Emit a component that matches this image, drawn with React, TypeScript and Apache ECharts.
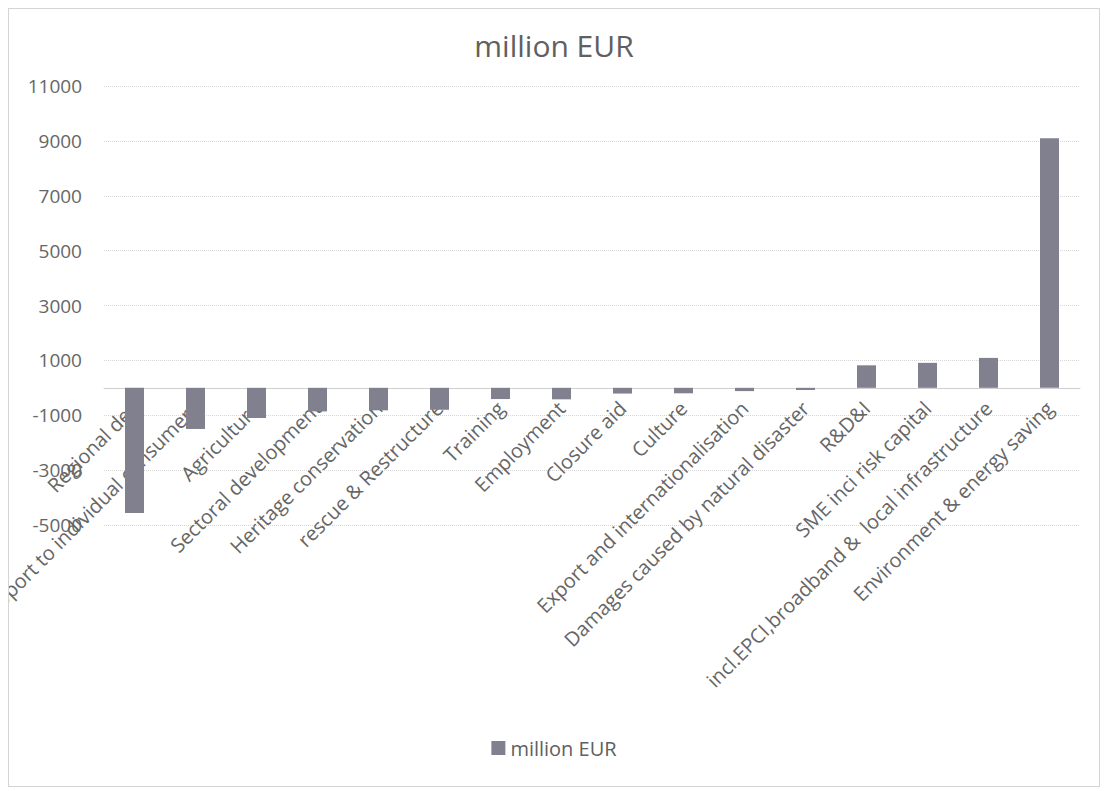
import React, { useEffect, useRef } from "react";
import * as echarts from "echarts";

const categories = [
  "Regional dev",
  "Support to individual consumers",
  "Agriculture",
  "Sectoral development",
  "Heritage conservation",
  "rescue & Restructure",
  "Training",
  "Employment",
  "Closure aid",
  "Culture",
  "Export and internationalisation",
  "Damages caused by natural disaster",
  "R&D&I",
  "SME inci risk capital",
  "incl.EPCI,broadband &  local infrastructure",
  "Environment & energy saving",
];

const values = [
  -4560, -1500, -1100, -860, -820, -800, -410, -420, -210, -200, -120, -80,
  820, 910, 1090, 9100,
];

const yTicks = [-5000, -3000, -1000, 1000, 3000, 5000, 7000, 9000, 11000];
const yMin = -5000;
const yMax = 11000;

const seriesName = "million EUR";
const titleText = "million EUR";

export default function App() {
  const ref = useRef<HTMLDivElement>(null);
  useEffect(() => {
    if (!ref.current) return;
    const chart = echarts.init(ref.current, undefined, { renderer: "svg" });
    const font = "'Open Sans', 'Liberation Sans', sans-serif";
    chart.setOption({
      animation: false,
      backgroundColor: "#ffffff",
      textStyle: { fontFamily: font },
      title: {
        text: titleText,
        left: "center",
        top: 16,
        textStyle: { fontFamily: font, fontSize: 30, fontWeight: "normal", color: "#606060" },
      },
      legend: {
        bottom: 23,
        left: "center",
        icon: "rect",
        itemWidth: 14,
        itemHeight: 14,
        itemGap: 6,
        textStyle: { fontFamily: font, fontSize: 20, color: "#606060" },
        data: [seriesName],
      },
      grid: { left: 95, right: 19, top: 77, bottom: 261, outerBoundsMode: "none", containLabel: false },
      xAxis: {
        type: "category",
        data: categories,
        offset: 0,
        axisLine: { onZero: false, lineStyle: { color: "#cfcfcf", width: 1 } },
        axisTick: { show: false },
        axisLabel: {
          interval: 0,
          rotate: 45,
          margin: 17,
          fontSize: 20,
          color: "#666666",
          fontFamily: font,
        },
        splitLine: { show: false },
        z: 0,
      },
      yAxis: {
        type: "value",
        min: yMin,
        max: yMax,
        axisLine: { show: false },
        axisTick: { show: false, customValues: yTicks },
        axisLabel: {
          customValues: yTicks,
          formatter: (v: number) => String(v),
          fontSize: 19,
          color: "#666666",
          margin: 22,
          fontFamily: font,
        },
        splitLine: { show: true, lineStyle: { color: "#d6d6d6", type: "dotted", width: 1 } },
      },
      series: [
        {
          name: seriesName,
          type: "bar",
          data: values,
          barWidth: 19,
          itemStyle: { color: "#80808e" },
          z: 2,
        },
      ],
    });
    const yZero = chart.convertToPixel({ yAxisIndex: 0 }, 0) as number;
    const yBottom = chart.convertToPixel({ yAxisIndex: 0 }, yMin) as number;
    chart.setOption({ xAxis: { offset: -(yBottom - yZero) } });
    return () => chart.dispose();
  }, []);
  return (
    <div
      ref={ref}
      style={{
        width: 1092,
        height: 779,
        border: "1px solid #d4d4d4",
        boxSizing: "border-box",
      }}
    />
  );
}
